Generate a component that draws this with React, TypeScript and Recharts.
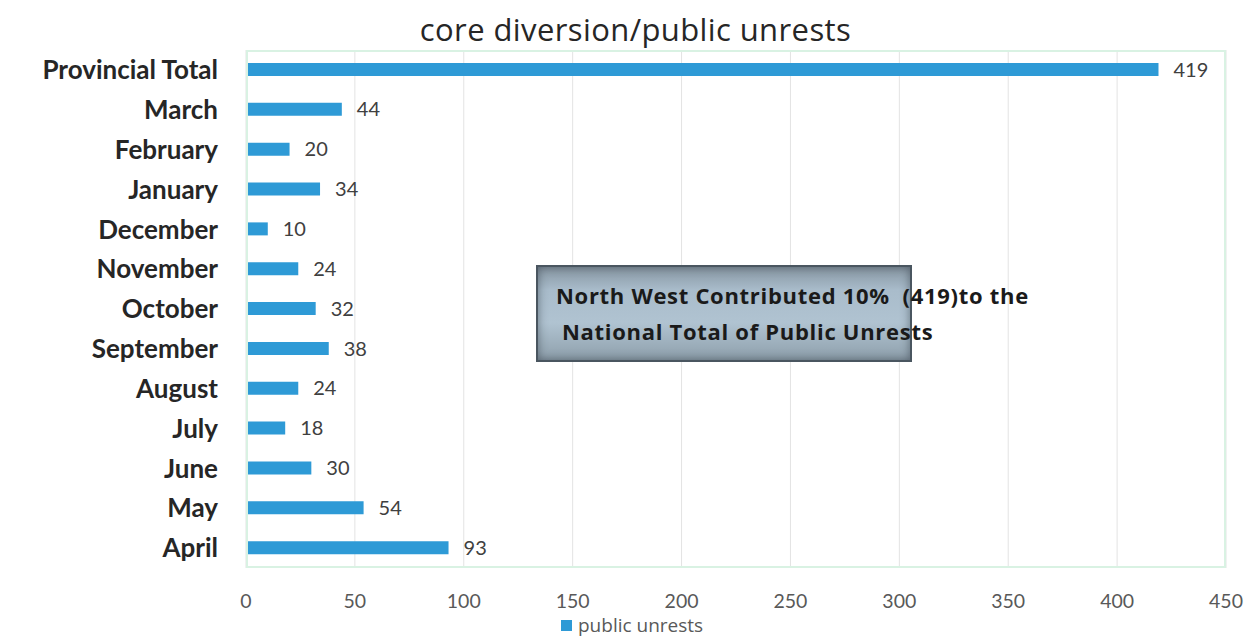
import React from "react";
import {
  BarChart,
  Bar,
  XAxis,
  YAxis,
  CartesianGrid,
  LabelList,
} from "recharts";

// Categories, top to bottom
const categories: string[] = [
  "Provincial Total",
  "March",
  "February",
  "January",
  "December",
  "November",
  "October",
  "September",
  "August",
  "July",
  "June",
  "May",
  "April",
];

// Public unrest counts per category
const unrestValues: number[] = [419, 44, 20, 34, 10, 24, 32, 38, 24, 18, 30, 54, 93];

const xTicks: number[] = [0, 50, 100, 150, 200, 250, 300, 350, 400, 450];

const seriesName = "public unrests";
const titleText = "core diversion/public unrests";
const noteLine1 = "North West Contributed 10%  (419)to the";
const noteLine2 = "National Total of Public Unrests";

const data = categories.map((name, i) => ({ name, value: unrestValues[i] }));

const FONT = "Lato, 'Open Sans', sans-serif";
const WIDE_FONT = "'Open Sans', Lato, sans-serif";
const BAR_COLOR = "#2E9AD6";

const CHART_W = 1239;
const CHART_H = 628;
const MARGIN = { top: 42, right: 21, bottom: 38, left: 0 };
const Y_AXIS_W = 238;
const X_AXIS_H = 30;

export default function App() {
  const plotLeft = MARGIN.left + Y_AXIS_W;
  const plotTop = MARGIN.top;
  const plotW = CHART_W - MARGIN.right - plotLeft;
  const plotH = CHART_H - MARGIN.bottom - X_AXIS_H - plotTop;

  return (
    <div style={{ position: "relative", width: CHART_W, height: CHART_H, fontFamily: FONT, background: "#fff" }}>
      <div
        style={{
          position: "absolute",
          left: 0,
          width: CHART_W,
          top: 3,
          textAlign: "center",
          fontSize: 31,
          letterSpacing: 0.4,
          fontFamily: WIDE_FONT,
          color: "#262626",
          lineHeight: "36px",
          paddingLeft: 16,
          boxSizing: "border-box",
        }}
      >
        {titleText}
      </div>
      <BarChart
        width={CHART_W}
        height={CHART_H}
        data={data}
        layout="vertical"
        margin={MARGIN}
        barCategoryGap={0}
      >
        <CartesianGrid horizontal={false} vertical stroke="#e3e3e3" strokeWidth={1} />
        <XAxis
          type="number"
          domain={[0, 450]}
          ticks={xTicks}
          axisLine={false}
          tickLine={false}
          height={X_AXIS_H}
          tickMargin={20}
          tick={{ fontSize: 19.5, fill: "#595959", fontFamily: FONT }}
          interval={0}
        />
        <YAxis
          type="category"
          dataKey="name"
          width={Y_AXIS_W}
          axisLine={false}
          tickLine={false}
          tickMargin={22}
          interval={0}
          tick={{ fontSize: 26, fontWeight: 700, fill: "#262626", fontFamily: FONT }}
        />
        <Bar dataKey="value" name={seriesName} fill={BAR_COLOR} barSize={13} isAnimationActive={false}>
          <LabelList
            dataKey="value"
            position="right"
            offset={15}
            style={{ fontSize: 20, fill: "#404040", fontFamily: FONT }}
          />
        </Bar>
      </BarChart>
      {/* plot area frame */}
      <div
        style={{
          position: "absolute",
          left: plotLeft,
          top: plotTop,
          width: plotW,
          height: plotH,
          border: "2px solid #d9f2e3",
          boxSizing: "border-box",
          pointerEvents: "none",
        }}
      />
      {/* callout box */}
      <div
        style={{
          position: "absolute",
          left: 528,
          top: 257,
          width: 376,
          height: 97,
          boxSizing: "border-box",
          border: "2px solid #4a5660",
          background: "linear-gradient(180deg, #8796a2 0%, #a9bccb 25%, #b0c3d1 60%, #8e9fab 100%)",
          boxShadow: "inset 0 0 10px rgba(40,50,60,0.55)",
        }}
      />
      <div
        style={{
          position: "absolute",
          left: 548,
          top: 269,
          fontSize: 22,
          letterSpacing: 0.7,
          fontWeight: 700,
          fontFamily: WIDE_FONT,
          color: "#1a1a1a",
          lineHeight: "36px",
          whiteSpace: "pre",
        }}
      >
        <div>{noteLine1}</div>
        <div style={{ paddingLeft: 6 }}>{noteLine2}</div>
      </div>
      {/* legend */}
      <div
        style={{
          position: "absolute",
          left: 553,
          top: 608,
          display: "flex",
          alignItems: "center",
          fontSize: 19,
          fontFamily: WIDE_FONT,
          color: "#595959",
          lineHeight: "18px",
        }}
      >
        <span style={{ display: "inline-block", width: 11, height: 11, background: BAR_COLOR, marginRight: 6 }} />
        <span>{seriesName}</span>
      </div>
    </div>
  );
}
